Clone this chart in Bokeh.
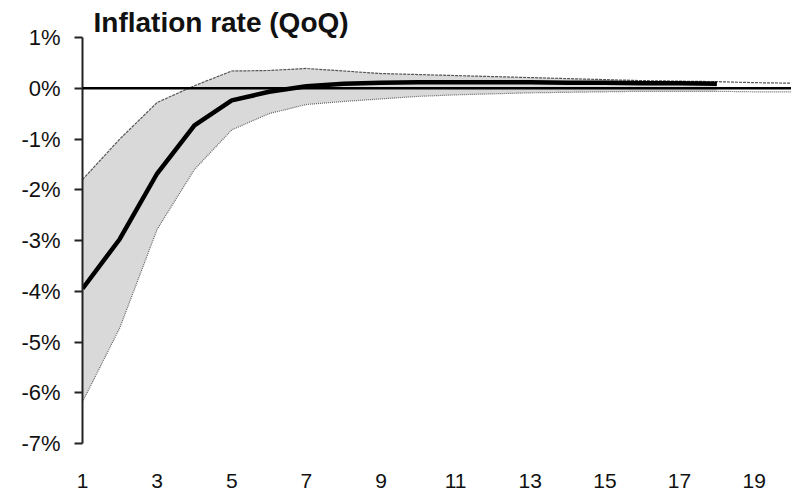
from bokeh.plotting import figure
from bokeh.models import Span, FixedTicker, Range1d
from bokeh.embed import file_html
from bokeh.resources import INLINE

# Data (percent)
horizon = list(range(1, 21))
mean = [-3.95, -2.97, -1.68, -0.73, -0.24, -0.07, 0.04, 0.09, 0.11, 0.12,
        0.12, 0.12, 0.12, 0.11, 0.11, 0.10, 0.10, 0.09]
upper = [-1.80, -1.00, -0.28, 0.05, 0.34, 0.35, 0.39, 0.34, 0.29, 0.27,
         0.25, 0.23, 0.21, 0.19, 0.17, 0.15, 0.14, 0.13, 0.11, 0.10]
lower = [-6.18, -4.72, -2.78, -1.60, -0.82, -0.50, -0.32, -0.26, -0.21, -0.16,
         -0.13, -0.11, -0.09, -0.08, -0.07, -0.06, -0.06, -0.06, -0.07, -0.07]
y_ticks = [-7, -6, -5, -4, -3, -2, -1, 0, 1]
y_tick_labels = ["-7%", "-6%", "-5%", "-4%", "-3%", "-2%", "-1%", "0%", "1%"]
x_ticks = [1, 3, 5, 7, 9, 11, 13, 15, 17, 19]
title_text = "Inflation rate (QoQ)"

FONT = "Liberation Sans"
n_fill = len(mean)

p = figure(width=791, height=497, output_backend="svg", toolbar_location=None,
           title=title_text,
           x_range=Range1d(1, 20), y_range=Range1d(-7, 1),
           min_border_left=82, min_border_right=0, min_border_top=37,
           min_border_bottom=54)
p.outline_line_color = None
p.xgrid.visible = False
p.ygrid.visible = False
p.background_fill_color = "white"
p.border_fill_color = "white"

p.title.text_font = FONT
p.title.text_font_size = "28px"
p.title.text_font_style = "bold"
p.title.text_color = "#111111"
p.title.align = "left"
p.title.offset = 11
p.title.standoff = 0

# confidence band
p.varea(x=horizon[:n_fill], y1=lower[:n_fill], y2=upper[:n_fill],
        fill_color="#d9d9d9")
p.line(horizon, upper, line_color="#555555", line_width=1.2, line_dash="3 1")
p.line(horizon, lower, line_color="#666666", line_width=1.2, line_dash="1 1")

zero = Span(location=0, dimension="width", line_color="black", line_width=2.5)
p.add_layout(zero)

p.line(horizon[:n_fill], mean, line_color="black", line_width=4.5,
       line_join="round")

# y axis
ya = p.yaxis[0]
ya.ticker = FixedTicker(ticks=y_ticks)
ya.major_label_overrides = {t: l for t, l in zip(y_ticks, y_tick_labels)}
ya.axis_line_color = "#222222"
ya.axis_line_width = 2
ya.major_tick_line_color = "#222222"
ya.major_tick_line_width = 2
ya.major_tick_out = 8
ya.major_tick_in = 0
ya.minor_tick_line_color = None
ya.major_label_standoff = 14
ya.major_label_text_font = FONT
ya.major_label_text_font_size = "22px"
ya.major_label_text_color = "#111111"

# x axis
xa = p.xaxis[0]
xa.ticker = FixedTicker(ticks=x_ticks)
xa.axis_line_color = None
xa.major_tick_line_color = None
xa.minor_tick_line_color = None
xa.major_tick_out = 0
xa.major_tick_in = 0
xa.major_label_standoff = 30
xa.major_label_text_font = FONT
xa.major_label_text_font_size = "21px"
xa.major_label_text_color = "#111111"

open("out.html", "w").write(file_html(p, INLINE))
